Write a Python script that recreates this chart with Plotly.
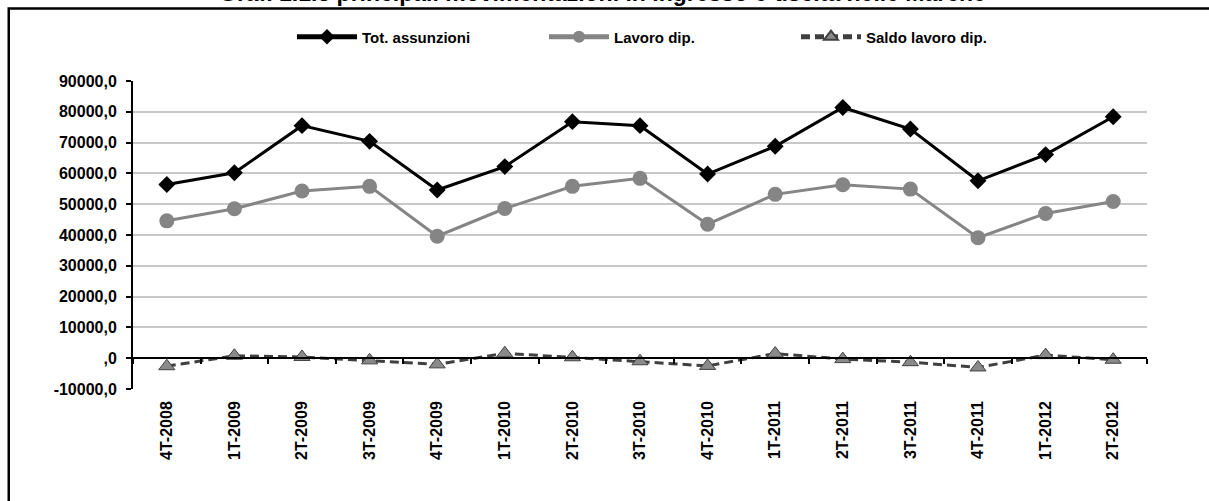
import plotly.graph_objects as go

categories = ["4T-2008", "1T-2009", "2T-2009", "3T-2009", "4T-2009", "1T-2010", "2T-2010",
              "3T-2010", "4T-2010", "1T-2011", "2T-2011", "3T-2011", "4T-2011", "1T-2012", "2T-2012"]
tot_assunzioni = [56400, 60200, 75500, 70400, 54600, 62200, 76800, 75500,
                  59800, 68800, 81400, 74400, 57600, 66100, 78400]
lavoro_dip = [44600, 48500, 54300, 55800, 39600, 48600, 55800, 58400,
              43500, 53200, 56300, 54900, 39100, 47000, 50900]
saldo_lavoro_dip = [-2600, 800, 400, -700, -2000, 1600, 300, -1000,
                    -2500, 1500, -300, -1300, -3000, 1000, -500]
y_tickvals = [-10000, 0, 10000, 20000, 30000, 40000, 50000, 60000, 70000, 80000, 90000]
y_ticktext = ["-10000,0", ",0", "10000,0", "20000,0", "30000,0", "40000,0",
              "50000,0", "60000,0", "70000,0", "80000,0", "90000,0"]
title_text = "Graf. 1.1.3 principali movimentazioni in ingresso e uscita nelle Marche"

FONT = "Liberation Sans, Arial, sans-serif"
W, H = 1209, 501
ML, MR, MT, MB = 133, 62, 81, 112
PW = W - ML - MR
PH = H - MT - MB

def px_to_paper_x(px):
    return (px - ML) / PW

def px_to_paper_y(py):
    return 1 + (MT - py) / PH

fig = go.Figure()
fig.add_trace(go.Scatter(
    x=categories, y=tot_assunzioni, name="Tot. assunzioni", mode="lines+markers",
    line=dict(color="#000000", width=3),
    marker=dict(symbol="diamond", size=13, color="#000000"),
))
fig.add_trace(go.Scatter(
    x=categories, y=lavoro_dip, name="Lavoro dip.", mode="lines+markers",
    line=dict(color="#858585", width=3),
    marker=dict(symbol="circle", size=15, color="#858585"),
))
fig.add_trace(go.Scatter(
    x=categories, y=saldo_lavoro_dip, name="Saldo lavoro dip.", mode="lines+markers",
    line=dict(color="#404040", width=3, dash="9px,5px"),
    marker=dict(symbol="triangle-up", size=14, color="#8a8a8a",
                line=dict(color="#404040", width=1)),
))
# empty helper trace so the zero-line axis (x2) is instantiated
fig.add_trace(go.Scatter(x=[], y=[], xaxis="x2", yaxis="y", showlegend=False,
                         hoverinfo="skip"))

n = len(categories)
boundaries = [i - 0.5 for i in range(n + 1)]

fig.update_layout(
    width=W, height=H,
    margin=dict(l=ML, r=MR, t=MT, b=MB),
    paper_bgcolor="white", plot_bgcolor="white",
    font=dict(family=FONT, size=15, color="#000000", weight="bold"),
    showlegend=True,
    legend=dict(
        orientation="h", x=px_to_paper_x(292), xanchor="left",
        y=px_to_paper_y(37), yanchor="middle",
        font=dict(family=FONT, size=15, color="#000000", weight="bold"),
        itemsizing="constant", itemwidth=60, entrywidth=177, entrywidthmode="pixels",
        bgcolor="rgba(0,0,0,0)", traceorder="normal",
    ),
    xaxis=dict(
        type="category", categoryorder="array", categoryarray=categories,
        range=[-0.5, n - 0.5],
        showgrid=False, showline=False, zeroline=False, ticks="",
        tickangle=-90, ticklabelstandoff=8,
        tickfont=dict(family=FONT, size=16, color="#000000", weight="bold"),
    ),
    xaxis2=dict(
        overlaying="x", anchor="free", position=0.1, type="linear",
        range=[-0.5, n - 0.5], tickmode="array", tickvals=boundaries,
        showticklabels=False, ticks="outside", ticklen=5, tickwidth=2,
        tickcolor="#000000", showline=True, linecolor="#000000", linewidth=2,
        showgrid=False, zeroline=False,
    ),
    yaxis=dict(
        range=[-10000, 90000], tickmode="array", tickvals=y_tickvals,
        ticktext=y_ticktext, ticks="outside", ticklen=5, tickwidth=2,
        tickcolor="#000000", showline=True, linecolor="#000000", linewidth=2,
        showgrid=True, gridcolor="#c8c8c8", gridwidth=2, zeroline=False,
        ticklabelstandoff=6,
        tickfont=dict(family=FONT, size=16, color="#000000", weight="bold"),
    ),
    shapes=[dict(
        type="rect", xref="paper", yref="paper",
        x0=px_to_paper_x(8.75), x1=px_to_paper_x(1225),
        y0=px_to_paper_y(8.5), y1=px_to_paper_y(525),
        line=dict(color="#000000", width=2.5), fillcolor="rgba(0,0,0,0)",
        layer="above",
    )],
    annotations=[dict(
        text=title_text, xref="paper", yref="paper",
        x=px_to_paper_x(602), y=px_to_paper_y(-7), xanchor="center", yanchor="middle",
        showarrow=False, font=dict(family=FONT, size=23, color="#000000", weight="bold"),
    )],
)

fig.write_html(
    "out.html",
    config={"displayModeBar": False},
    post_script="document.body.style.margin='0';document.body.style.overflow='hidden';",
)
